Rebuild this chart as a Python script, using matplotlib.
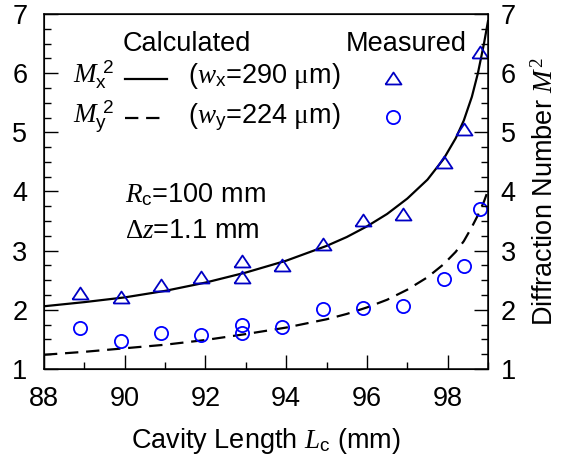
import matplotlib
matplotlib.use("Agg")
import matplotlib.pyplot as plt
from matplotlib.ticker import MultipleLocator
from matplotlib.lines import Line2D

plt.rcParams['font.family'] = ['Liberation Sans', 'DejaVu Sans']
plt.rcParams['mathtext.fontset'] = 'custom'
plt.rcParams['mathtext.rm'] = 'Liberation Serif'
plt.rcParams['mathtext.it'] = 'Liberation Serif:italic'
plt.rcParams['mathtext.sf'] = 'Liberation Sans'

# calculated beam quality vs cavity length
calc_L = [88.0, 89.0, 90.0, 91.0, 92.0, 93.0, 94.0, 95.0, 95.5, 96.0,
          96.5, 97.0, 97.5, 97.9, 98.2, 98.4, 98.6, 98.75, 98.9, 99.0]
calc_Mx2 = [2.06, 2.13, 2.21, 2.32, 2.46, 2.63, 2.83, 3.08, 3.23, 3.41,
            3.62, 3.88, 4.20, 4.55, 4.90, 5.20, 5.60, 6.00, 6.50, 6.88]
calc_My2 = [1.24, 1.29, 1.35, 1.41, 1.49, 1.59, 1.70, 1.84, 1.93, 2.04,
            2.17, 2.34, 2.55, 2.77, 2.98, 3.16, 3.40, 3.60, 3.83, 4.02]

# measured points
meas_L = [88.9, 89.9, 90.9, 91.9, 92.9, 92.9, 93.9, 94.9, 95.9, 96.9,
          97.9, 98.4, 98.8]
meas_Mx2 = [2.29, 2.22, 2.42, 2.55, 2.82, 2.55, 2.76, 3.11, 3.51, 3.62,
            4.49, 5.05, 6.36]
meas_My2 = [1.70, 1.47, 1.60, 1.57, 1.74, 1.60, 1.71, 2.02, 2.03, 2.06,
            2.52, 2.74, 3.70]

FS = 19.5
tri_color = '#0000c4'
circ_color = '#0000ff'
tri = [(-1, -0.75), (1, -0.75), (0, 0.75), (-1, -0.75)]
dash = (0, (6, 3.5))
tri_kw = dict(linestyle='none', marker=tri, ms=11.5, mfc='none',
              mec=tri_color, mew=1.3)
circ_kw = dict(linestyle='none', marker='o', ms=9.5, mfc='none',
               mec=circ_color, mew=1.3)

fig = plt.figure(figsize=(5.61, 4.57), dpi=100)
ax = fig.add_axes([0.0784, 0.1926, 0.7915, 0.7768])

ax.plot(calc_L, calc_Mx2, color='black', lw=1.6)
ax.plot(calc_L, calc_My2, color='black', lw=1.6, linestyle=dash)
ax.plot(meas_L, meas_Mx2, **tri_kw)
ax.plot(meas_L, meas_My2, **circ_kw)

ax.set_xlim(88, 99)
ax.set_ylim(1, 7)
ax.xaxis.set_major_locator(MultipleLocator(2))
ax.xaxis.set_minor_locator(MultipleLocator(1))
ax.yaxis.set_major_locator(MultipleLocator(1))
ax.yaxis.set_minor_locator(MultipleLocator(0.25))
ax.tick_params(which='both', direction='in', top=False, right=False,
               labelsize=FS, width=1)
ax.tick_params(axis='y', which='both', pad=12)
ax.tick_params(axis='x', which='both', pad=12)
ax.tick_params(which='major', length=10)
ax.tick_params(which='minor', length=5)
for s in ax.spines.values():
    s.set_linewidth(1.1)

ax2 = ax.twinx()
ax2.set_ylim(1, 7)
ax2.yaxis.set_major_locator(MultipleLocator(1))
ax2.yaxis.set_minor_locator(MultipleLocator(0.25))
ax2.tick_params(which='both', direction='in', labelsize=FS, width=1, pad=9)
ax2.tick_params(which='major', length=10)
ax2.tick_params(which='minor', length=5)
ax2.set_ylabel('Diffraction Number $M^{\\mathrm{2}}$', fontsize=FS, labelpad=12)

ax.set_xlabel('Cavity Length $L_\\mathsf{c}$ (mm)', fontsize=FS, labelpad=10)

# key block
ax.text(0.322, 0.896, 'Calculated', transform=ax.transAxes, fontsize=FS,
        ha='center', va='baseline')
ax.text(0.815, 0.896, 'Measured', transform=ax.transAxes, fontsize=FS,
        ha='center', va='baseline')
ax.text(0.065, 0.806, '$M_\\mathsf{x}^{\\ \\mathsf{2}}$', transform=ax.transAxes,
        fontsize=FS, ha='left', va='baseline')
ax.text(0.065, 0.693, '$M_\\mathsf{y}^{\\ \\mathsf{2}}$', transform=ax.transAxes,
        fontsize=FS, ha='left', va='baseline')
ax.text(0.324, 0.806, '($w_\\mathsf{x}$=290 $\\mathrm{\\mu}$m)',
        transform=ax.transAxes, fontsize=FS, ha='left', va='baseline')
ax.text(0.324, 0.693, '($w_\\mathsf{y}$=224 $\\mathrm{\\mu}$m)',
        transform=ax.transAxes, fontsize=FS, ha='left', va='baseline')
ax.add_line(Line2D([0.182, 0.277], [0.817, 0.817], transform=ax.transAxes,
                   color='black', lw=1.6))
ax.add_line(Line2D([0.182, 0.277], [0.707, 0.707], transform=ax.transAxes,
                   color='black', lw=1.6, linestyle=dash))
ax.plot([0.786], [0.820], transform=ax.transAxes, **tri_kw)
ax.plot([0.786], [0.710], transform=ax.transAxes, **circ_kw)

ax.text(0.182, 0.470, '$R_\\mathsf{c}$=100 mm', transform=ax.transAxes,
        fontsize=FS, ha='left', va='baseline')
ax.text(0.182, 0.369, '$\\Delta z$=1.1 mm', transform=ax.transAxes,
        fontsize=FS, ha='left', va='baseline')

fig.savefig('out.png', dpi=100)
